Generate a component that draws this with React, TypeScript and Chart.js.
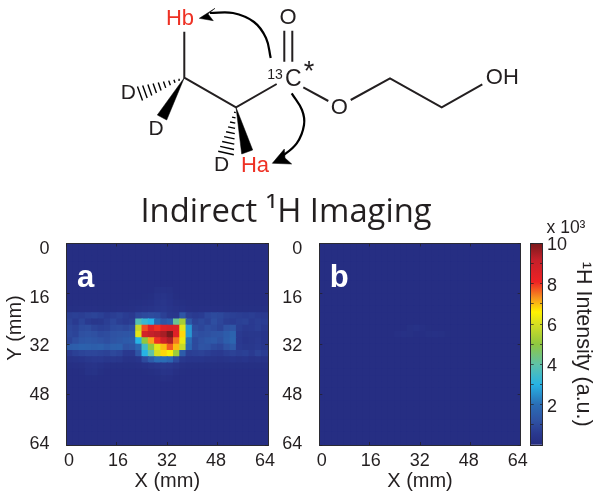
import React, { useEffect, useRef } from "react";
import { Chart, registerables } from "chart.js";

Chart.register(...registerables);

const INK = "#231f20";
const RED = "#ee3124";
const SANS = "'Liberation Sans', Arial, sans-serif";

const tickLabels = [0, 16, 32, 48, 64];
const colorbarTicks = [2, 4, 6, 8, 10];
const colormapValues = [0, 0.6, 1.2, 2, 3, 4, 5, 6, 6.6, 7.3, 8.1, 9.2, 10];
const colormapColors = ["#252c80", "#2a3a90", "#2f52a3", "#2a6db5", "#27b3e4", "#5fc2a8", "#8fc740", "#d5de22", "#fff200", "#f7941e", "#ee2224", "#c4202a", "#7a1a1c"];

const q = [.1,.1,.1,.1,.1,.1,.1,.1,.1,.1,.1,.1,.1,.1,.1,.1,.1,.1,.1,.1,.1,.1,.1,.1,.1,.1,.1,.1,.1,.1,.1,.1];

const panelARows = [
  q, q, q, q, q, q, q,
  [.1,.1,.1,.1,.1,.1,.1,.1,.1,.1,.1,.1,.1,.1,.2,.22,.2,.1,.1,.1,.1,.1,.1,.1,.1,.1,.1,.1,.1,.1,.1,.1],
  [.1,.1,.1,.1,.1,.1,.1,.1,.1,.1,.1,.1,.12,.15,.3,.35,.25,.12,.1,.1,.1,.1,.1,.1,.1,.1,.1,.1,.1,.1,.1,.1],
  [.1,.12,.12,.12,.12,.12,.12,.12,.12,.12,.15,.15,.18,.22,.35,.42,.32,.2,.15,.12,.12,.12,.12,.12,.12,.12,.12,.12,.12,.12,.12,.1],
  [.15,.15,.18,.18,.18,.15,.15,.15,.18,.18,.2,.25,.3,.35,.42,.48,.38,.3,.25,.18,.15,.18,.18,.18,.18,.15,.15,.15,.15,.15,.15,.15],
  [.7,.75,.7,.8,.85,.75,.6,.7,.8,.65,.55,.9,1,1.05,1,.75,.5,.45,1.3,.7,.6,.65,.9,1,.95,.8,.75,.7,.65,.7,.6,.55],
  [.8,.6,.85,.6,.45,.5,.7,.9,.7,.6,.7,3.8,3.3,3,1.8,1.3,1.5,4.2,5.3,1.4,.8,.95,.8,1.1,.9,.7,.65,.75,.8,.6,.7,.65],
  [.9,.8,1,1.05,.85,.75,.8,1,1.05,.95,1.1,5.8,7.8,8.5,8,8.5,8.7,8.6,6.2,2.6,1.05,.9,1.1,1,.85,1.2,1.3,.7,.55,.6,.7,.5],
  [.95,.85,1.15,1.2,1.15,1,1.05,1.2,1.25,1.3,1.35,6.2,8.8,9.2,9.3,9.5,10,8.5,6.8,2.6,1.2,1.1,1.15,1.25,1.3,1.5,1.7,.6,.45,.5,.5,.4],
  [.85,1.1,1.3,1.35,1.3,1.2,1.1,1.25,1.35,1.45,1.5,3,5,7.2,8,8.9,9.4,7.5,6.3,2,1,1.2,1.35,1.4,1.2,1.55,1.75,.55,.4,.45,.55,.4],
  [1.5,1.55,1.65,1.6,1.55,1.6,1.45,1.6,1.65,1.2,1.3,1.8,3.5,5,6.2,7,7.7,7,5.8,1.8,1,1.25,1.2,1,.9,1.2,1.4,.6,.5,.5,.6,.45],
  [.6,.75,.85,.9,.9,.85,.8,.95,.85,.55,.55,1.3,3,4,6,6.8,6.5,5.2,1.5,.7,.75,.8,.7,.6,.55,.7,.8,.7,.75,.6,.8,.65],
  [.3,.35,.4,.5,.55,.55,.45,.5,.45,.3,.3,.4,1,1.5,2,2,1.8,1,.5,.4,.4,.4,.35,.35,.3,.35,.4,.35,.4,.3,.35,.3],
  [.15,.18,.2,.3,.35,.25,.18,.15,.15,.15,.15,.18,.25,.35,.42,.5,.45,.35,.2,.15,.15,.15,.15,.15,.15,.15,.15,.15,.15,.15,.15,.15],
  [.1,.1,.12,.25,.28,.15,.1,.1,.1,.1,.1,.1,.12,.15,.22,.35,.32,.18,.12,.1,.1,.1,.1,.1,.1,.1,.1,.1,.1,.1,.1,.1],
  [.1,.1,.1,.12,.12,.1,.1,.1,.1,.1,.1,.1,.1,.1,.12,.2,.18,.1,.1,.1,.1,.1,.1,.1,.1,.1,.1,.1,.1,.1,.1,.1],
  q, q, q, q, q, q, q, q, q, q,
];

const panelBRows = [
  q, q, q, q, q, q, q, q, q, q, q, q, q,
  [.1,.1,.1,.1,.1,.1,.1,.1,.1,.1,.1,.1,.1,.1,.2,.25,.18,.12,.1,.1,.1,.1,.1,.1,.1,.1,.1,.1,.1,.1,.1,.1],
  [.1,.1,.1,.1,.1,.1,.1,.1,.1,.1,.1,.1,.18,.22,.2,.14,.14,.2,.22,.2,.12,.1,.1,.1,.1,.1,.1,.1,.1,.1,.1,.1],
  q, q, q, q, q, q, q, q, q, q, q, q, q, q, q, q, q,
];

const bondPaths = [
  [[184.3, 31.7], [184.3, 77.7], [236, 107.3], [276.7, 84]],
  [[284.3, 30.7], [284.3, 61.7]],
  [[292.3, 30.7], [292.3, 61.7]],
  [[303.3, 87.3], [328.3, 101]],
  [[350.7, 100], [390, 78.3], [441.7, 107.3], [482.3, 84.3]],
];
const solidWedges = [
  [[184.3, 77.7], [157.3, 115], [166.7, 120]],
  [[236, 107.3], [241.7, 154], [252.7, 150]],
];
const hashedWedges = [
  { apex: [184.3, 77.7], end: [140, 93.5], half: 7.5 },
  { apex: [236, 107.3], end: [226, 153], half: 8 },
];
const arrowCurves = [
  [[270.7, 58], [266, 38], [254, 22], [233, 13], [210, 13]],
  [[291.7, 93.3], [302, 110], [304, 125], [296.7, 143.3], [280, 158]],
];
const arrowHeads = [
  [[199.3, 18.3], [215, 8.3], [208, 14], [213.3, 20.7]],
  [[272.3, 163.3], [284.3, 149], [285, 158], [291.7, 164]],
];
const sceneLabels = [
  { text: "Hb", x: 180, y: 19, color: RED, size: 22 },
  { text: "O", x: 288, y: 18, color: INK, size: 22 },
  { text: "13", x: 275, y: 75, color: INK, size: 14 },
  { text: "C", x: 293.3, y: 79.5, color: INK, size: 23 },
  { text: "*", x: 309, y: 73, color: INK, size: 27 },
  { text: "O", x: 339.3, y: 107.7, color: INK, size: 22 },
  { text: "OH", x: 502.3, y: 78.3, color: INK, size: 22 },
  { text: "D", x: 128.3, y: 93.3, color: INK, size: 21 },
  { text: "D", x: 156, y: 129.3, color: INK, size: 21 },
  { text: "D", x: 221.7, y: 165.7, color: INK, size: 21 },
  { text: "Ha", x: 255, y: 165.7, color: RED, size: 22 },
  { text: "x 10³", x: 566, y: 228, color: INK, size: 17.5 },
];

function hexRgb(h: string) {
  return [1, 3, 5].map((i) => parseInt(h.slice(i, i + 2), 16));
}
function colormap(v: number) {
  let i = 0;
  while (i < colormapValues.length - 2 && v > colormapValues[i + 1]) i++;
  const t = Math.min(1, Math.max(0, (v - colormapValues[i]) / (colormapValues[i + 1] - colormapValues[i])));
  const a = hexRgb(colormapColors[i]);
  const b = hexRgb(colormapColors[i + 1]);
  const m = a.map((c, k) => Math.round(c + (b[k] - c) * t));
  return `rgb(${m[0]},${m[1]},${m[2]})`;
}

const fixSize = (w: number | null, h: number | null) => (s: any) => {
  if (w !== null) s.width = w;
  if (h !== null) s.height = h;
  s.paddingLeft = s.paddingRight = s.paddingTop = s.paddingBottom = 0;
};

const tickGrid = {
  display: true,
  drawOnChartArea: false,
  drawTicks: true,
  tickLength: -3,
  color: "rgba(35,31,32,0.7)",
  lineWidth: 1,
  z: 1,
};
const frame = { display: true, color: "#2b2b33", width: 1, z: 1 };
const tickFont = { family: SANS, size: 18 };

function axisTicksOnly(axis: "x" | "y", position: string, reverse: boolean, w: number | null, h: number | null) {
  return {
    type: "linear",
    axis,
    position,
    min: 0,
    max: 64,
    reverse,
    weight: 0,
    afterFit: fixSize(w, h),
    afterBuildTicks: (s: any) => { s.ticks = tickLabels.map((value) => ({ value })); },
    ticks: { display: false },
    grid: tickGrid,
    border: frame,
  };
}

function panelConfig(rows: number[][], mark: string, leftAxis: number, rightPad: number, yTitle: boolean) {
  const cells: any[] = [];
  rows.forEach((row, r) => row.forEach((v, c) => cells.push({ x: c * 2 + 1, y: r * 2 + 1, v })));
  return {
    type: "scatter",
    data: {
      datasets: [{
        data: cells,
        pointStyle: "rect",
        pointBorderWidth: 0,
        pointRadius: (ctx: any) => (ctx.chart.scales.x.width / 64 + 0.6) * Math.SQRT2,
        backgroundColor: (ctx: any) => colormap(ctx.raw ? ctx.raw.v : 0),
      }],
    },
    options: {
      responsive: false,
      animation: false,
      events: [],
      layout: { padding: { top: 8.5, right: rightPad, left: 0, bottom: 0 } },
      plugins: {
        legend: { display: false },
        tooltip: { enabled: false },
        panelMark: { mark },
      },
      scales: {
        x: axisTicksOnly("x", "bottom", false, null, 0),
        y: axisTicksOnly("y", "left", true, 0, null),
        xTop: axisTicksOnly("x", "top", false, null, 0),
        yRight: axisTicksOnly("y", "right", true, 0, null),
        xLabel: {
          type: "linear",
          axis: "x",
          position: "bottom",
          weight: 1,
          min: -0.78,
          max: 65,
          afterFit: fixSize(null, 52),
          afterBuildTicks: (s: any) => { s.ticks = tickLabels.map((value) => ({ value })); },
          ticks: { font: tickFont, color: INK, padding: -3, maxRotation: 0, autoSkip: false },
          grid: { display: false },
          border: { display: false },
          title: { display: true, text: "X (mm)", font: { family: SANS, size: 20 }, color: INK, padding: { top: 0, bottom: 4 } },
        },
        yLabel: {
          type: "linear",
          axis: "y",
          position: "left",
          weight: 1,
          min: -1.8,
          max: 64.33,
          reverse: true,
          afterFit: fixSize(leftAxis, null),
          afterBuildTicks: (s: any) => { s.ticks = tickLabels.map((value) => ({ value })); },
          ticks: { font: tickFont, color: INK, padding: 9, autoSkip: false },
          grid: { display: false },
          border: { display: false },
          title: { display: yTitle, text: "Y (mm)", font: { family: SANS, size: 20 }, color: INK, padding: { top: 3, bottom: 0 } },
        },
      },
    },
    plugins: [{
      id: "panelMark",
      beforeDraw(chart: any) {
        const s = chart.scales.yLabel;
        s.bottom = s.top + 169;
      },
      afterDatasetsDraw(chart: any, _a: any, opts: any) {
        const { ctx, chartArea } = chart;
        ctx.save();
        ctx.fillStyle = "#ffffff";
        ctx.font = `bold 31px ${SANS}`;
        ctx.textAlign = "left";
        ctx.textBaseline = "alphabetic";
        ctx.fillText(opts.mark, chartArea.left + 10.5, chartArea.top + 43);
        ctx.restore();
      },
    }],
  };
}

function colorbarConfig() {
  return {
    type: "bar",
    data: {
      labels: ["scale"],
      datasets: [{
        data: [10],
        barPercentage: 1,
        categoryPercentage: 1,
        borderWidth: 0,
        backgroundColor: (ctx: any) => {
          const area = ctx.chart.chartArea;
          if (!area) return colormapColors[0];
          const g = ctx.chart.ctx.createLinearGradient(0, area.bottom, 0, area.top);
          colormapValues.forEach((v, i) => g.addColorStop(v / 10, colormapColors[i]));
          return g;
        },
      }],
    },
    options: {
      responsive: false,
      animation: false,
      events: [],
      layout: { padding: { top: 8.5, left: 5.7, right: 0, bottom: 52 } },
      plugins: { legend: { display: false }, tooltip: { enabled: false } },
      scales: {
        x: {
          type: "category",
          afterFit: fixSize(null, 0),
          ticks: { display: false },
          grid: { display: false },
          border: frame,
        },
        xTop: {
          type: "linear",
          axis: "x",
          position: "top",
          afterFit: fixSize(null, 0),
          ticks: { display: false },
          grid: { display: false },
          border: frame,
        },
        yLeft: {
          type: "linear",
          axis: "y",
          position: "left",
          min: 0,
          max: 10,
          afterFit: fixSize(0, null),
          ticks: { display: false, stepSize: 1 },
          grid: tickGrid,
          border: frame,
        },
        y: {
          type: "linear",
          position: "right",
          min: 0,
          max: 10,
          afterFit: fixSize(59, null),
          ticks: {
            stepSize: 1,
            autoSkip: false,
            font: tickFont,
            color: INK,
            padding: 7,
            labelOffset: 2,
            callback: (v: number) => (colorbarTicks.includes(v) ? String(v) : ""),
          },
          grid: tickGrid,
          border: frame,
          title: {
            display: true,
            text: "¹H Intensity (a.u.)",
            font: { family: SANS, size: 21.5 },
            color: INK,
            padding: { top: 6, bottom: 0 },
          },
        },
      },
    },
  };
}

function titleConfig() {
  return {
    type: "scatter",
    data: { datasets: [] },
    options: {
      responsive: false,
      animation: false,
      events: [],
      scales: { x: { display: false }, y: { display: false } },
      plugins: {
        legend: { display: false },
        tooltip: { enabled: false },
        title: {
          display: true,
          text: "Indirect ¹H Imaging",
          font: { family: "'Open Sans', sans-serif", size: 32.8, weight: "normal" },
          color: INK,
          padding: { top: 8, bottom: 0 },
        },
      },
    },
  };
}

function sceneConfig() {
  const pts = (p: number[][]) => p.map(([x, y]) => ({ x, y }));
  const datasets: any[] = [];
  bondPaths.forEach((p) => datasets.push({ data: pts(p), showLine: true, borderColor: INK, borderWidth: 2, pointRadius: 0, fill: false, tension: 0, borderJoinStyle: "miter" }));
  solidWedges.forEach((p) => datasets.push({ data: pts([...p, p[0]]), showLine: true, borderColor: "#000", borderWidth: 0.5, backgroundColor: "#000", pointRadius: 0, fill: "shape", tension: 0 }));
  hashedWedges.forEach(({ apex, end, half }) => {
    const dx = end[0] - apex[0];
    const dy = end[1] - apex[1];
    const len = Math.hypot(dx, dy);
    const nx = -dy / len;
    const ny = dx / len;
    for (let i = 1; i <= 9; i++) {
      const t = i / 9;
      const cx = apex[0] + dx * t;
      const cy = apex[1] + dy * t;
      const h = half * t;
      datasets.push({
        data: [{ x: cx - nx * h, y: cy - ny * h }, { x: cx + nx * h, y: cy + ny * h }],
        showLine: true, borderColor: "#000", borderWidth: 1.4, pointRadius: 0, fill: false, tension: 0,
      });
    }
  });
  arrowCurves.forEach((p) => datasets.push({ data: pts(p), showLine: true, borderColor: "#000", borderWidth: 2.2, pointRadius: 0, fill: false, tension: 0.4 }));
  arrowHeads.forEach((p) => datasets.push({ data: pts([...p, p[0]]), showLine: true, borderColor: "#000", borderWidth: 0.5, backgroundColor: "#000", pointRadius: 0, fill: "shape", tension: 0 }));
  return {
    type: "scatter",
    data: { datasets },
    options: {
      responsive: false,
      animation: false,
      events: [],
      layout: { padding: 0 },
      plugins: { legend: { display: false }, tooltip: { enabled: false } },
      scales: {
        x: { type: "linear", display: false, min: 0, max: 602 },
        y: { type: "linear", display: false, min: 0, max: 497, reverse: true },
      },
    },
    plugins: [{
      id: "sceneLabels",
      afterDatasetsDraw(chart: any) {
        const { ctx, scales } = chart;
        ctx.save();
        ctx.textAlign = "center";
        ctx.textBaseline = "middle";
        sceneLabels.forEach((l) => {
          ctx.fillStyle = l.color;
          ctx.font = `${l.size}px ${SANS}`;
          ctx.fillText(l.text, scales.x.getPixelForValue(l.x), scales.y.getPixelForValue(l.y));
        });
        ctx.restore();
      },
    }],
  };
}

function Layer({ left, top, width, height, make }: any) {
  const ref = useRef<HTMLCanvasElement>(null);
  useEffect(() => {
    const chart = new Chart(ref.current as any, make());
    return () => chart.destroy();
  }, []);
  return (
    <canvas
      ref={ref}
      width={width}
      height={height}
      style={{ position: "absolute", left, top, width, height, display: "block" }}
    />
  );
}

export default function App() {
  return (
    <div style={{ position: "absolute", left: 0, top: 0, width: 602, height: 497, background: "#fff", overflow: "hidden" }}>
      <Layer left={0} top={185} width={572} height={50} make={titleConfig} />
      <Layer left={0} top={235} width={290} height={262} make={() => panelConfig(panelARows, "a", 66.6, 22, true)} />
      <Layer left={272} top={235} width={262} height={262} make={() => panelConfig(panelBRows, "b", 47.3, 13.3, false)} />
      <Layer left={525} top={235} width={77} height={262} make={colorbarConfig} />
      <Layer left={0} top={0} width={602} height={497} make={sceneConfig} />
    </div>
  );
}
